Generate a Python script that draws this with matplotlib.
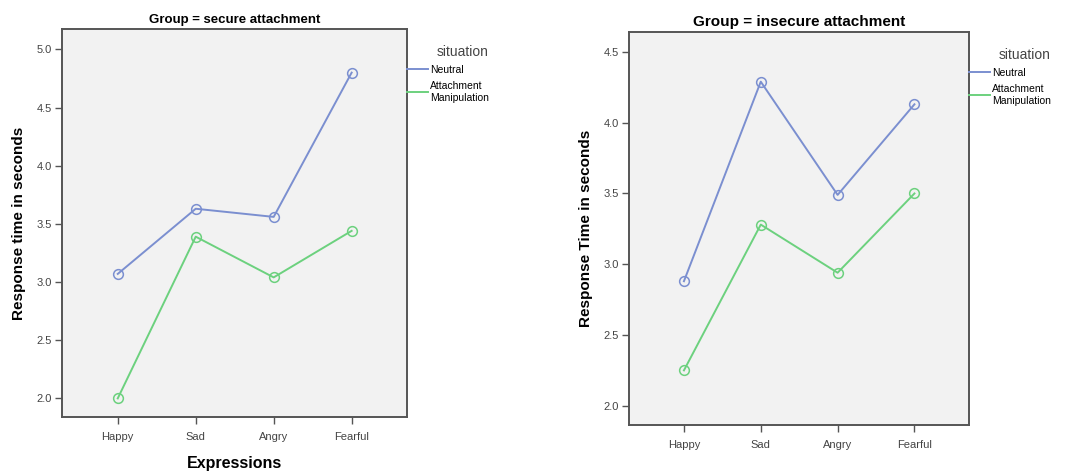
import matplotlib
matplotlib.use("Agg")
import matplotlib.pyplot as plt
from matplotlib.ticker import FormatStrFormatter

plt.rcParams['font.family'] = ['Liberation Sans', 'DejaVu Sans']

expressions = ['Happy', 'Sad', 'Angry', 'Fearful']
series_names = ['Neutral', 'Attachment\nManipulation']

# secure attachment group
secure_neutral = [3.07, 3.63, 3.56, 4.80]
secure_attach = [2.00, 3.39, 3.04, 3.44]

# insecure attachment group
insecure_neutral = [2.88, 4.29, 3.49, 4.13]
insecure_attach = [2.25, 3.28, 2.94, 3.50]

secure_ticks = [2.0, 2.5, 3.0, 3.5, 4.0, 4.5, 5.0]
insecure_ticks = [2.0, 2.5, 3.0, 3.5, 4.0, 4.5]

colors = ['#7b8fd0', '#6cd17e']
W, H = 1067, 473


def box(x0, y0, x1, y1):
    # pixel box (top-left origin) -> figure fraction rect
    return [x0 / W, 1 - y1 / H, (x1 - x0) / W, (y1 - y0) / H]


def draw_panel(ax, neutral, attach, ticks, ylim, title, title_size, ylabel):
    ax.set_facecolor('#f2f2f2')
    x = range(len(expressions))
    for vals, name, c in zip([neutral, attach], series_names, colors):
        ax.plot(x, vals, color=c, lw=1.4, marker='o', ms=7, mfc='none',
                mec=c, mew=1.1, label=name)
    ax.set_xlim(-0.715, 3.71)
    ax.set_ylim(*ylim)
    ax.set_xticks(list(x))
    ax.set_xticklabels(expressions)
    ax.set_yticks(ticks)
    ax.yaxis.set_major_formatter(FormatStrFormatter('%.1f'))
    ax.tick_params(direction='out', length=5, width=1, color='#555555',
                   labelsize=8, labelcolor='#444444', pad=2)
    ax.tick_params(axis='x', pad=6)
    for s in ax.spines.values():
        s.set_color('#555555')
        s.set_linewidth(1.4)
    ax.set_title(title, fontsize=title_size, fontweight='bold', pad=4)
    ax.set_ylabel(ylabel, fontsize=11, fontweight='bold', labelpad=8)
    leg = ax.legend(title='situation', loc='upper left',
                    bbox_to_anchor=(1.0, 0.96), frameon=False,
                    fontsize=7.5, title_fontsize=10, handlelength=2.0,
                    handletextpad=0.2, borderaxespad=0, borderpad=0,
                    labelspacing=0.6)
    for h in leg.legend_handles:
        h.set_marker('')
    leg.get_title().set_color('#444444')
    leg._legend_box.align = 'right'
    return ax


fig = plt.figure(figsize=(W / 100, H / 100), dpi=100)

ax1 = fig.add_axes(box(62, 29, 407, 417))
draw_panel(ax1, secure_neutral, secure_attach, secure_ticks, (1.84, 5.175),
           'Group = secure attachment', 9.5, 'Response time in seconds')
ax1.set_xlabel('Expressions', fontsize=11.5, fontweight='bold', labelpad=10)

ax2 = fig.add_axes(box(629, 32, 969, 425))
draw_panel(ax2, insecure_neutral, insecure_attach, insecure_ticks,
           (1.864, 4.641), 'Group = insecure attachment', 11,
           'Response Time in seconds')

fig.savefig('out.png', dpi=100)
